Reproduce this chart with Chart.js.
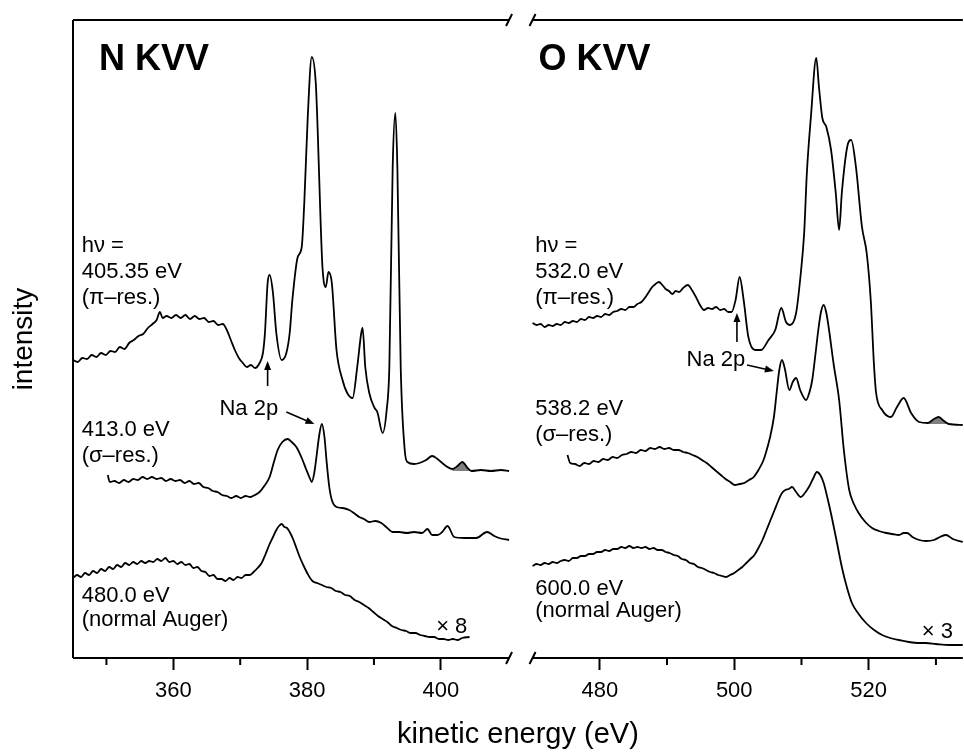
<!DOCTYPE html>
<html>
<head>
<meta charset="utf-8">
<script src="https://cdn.jsdelivr.net/npm/chart.js@4.4.0/dist/chart.umd.min.js"></script>
<style>
  html, body { margin: 0; padding: 0; background: #fff; }
  canvas { display: block; }
</style>
</head>
<body>
<canvas id="auger" width="964" height="752"></canvas>
<script>
// [kinetic energy (eV), intensity (arb. units, traces offset)]
// N KVV panel
const nPiRes = [
  [345.0, 298], [345.7, 296], [346.4, 300], [347.1, 299], [347.8, 303], [348.5, 301],
  [349.2, 305], [349.9, 303], [350.6, 307], [351.3, 306], [352.0, 311], [352.7, 309],
  [353.4, 315], [354.1, 318], [354.8, 322], [355.5, 324], [356.2, 330], [356.9, 334],
  [357.5, 338], [358.0, 346], [358.4, 340], [359.0, 342], [359.7, 340], [360.4, 343],
  [361.1, 340], [361.8, 343], [362.5, 339], [363.2, 342], [363.9, 339], [364.6, 340],
  [365.3, 336], [366.0, 337], [366.7, 333], [367.4, 334], [368.0, 328], [368.6, 318],
  [369.2, 308], [369.8, 300], [370.4, 295], [371.0, 291], [371.6, 293], [372.2, 290],
  [372.9, 295], [373.4, 305], [373.7, 325], [374.1, 375], [374.4, 383], [374.9, 365],
  [375.4, 325], [376.2, 298], [376.9, 305], [377.4, 325], [377.8, 358], [378.6, 401],
  [379.2, 411], [379.6, 458], [380.1, 541], [380.7, 601], [381.3, 575], [381.6, 525],
  [382.0, 441], [382.3, 391], [382.8, 371], [383.2, 386], [383.7, 375], [384.4, 308],
  [385.3, 278], [386.0, 265], [386.8, 260], [387.5, 291], [388.1, 325], [388.3, 330],
  [388.7, 291], [389.3, 265], [390.1, 250], [390.5, 246], [391.3, 225], [391.9, 248],
  [392.3, 291], [392.8, 491], [393.2, 545], [393.5, 491], [394.0, 291], [394.6, 208],
  [395.0, 196], [396.0, 194], [396.8, 195], [397.8, 198], [398.7, 202], [399.5, 199],
  [400.2, 195], [401.0, 191], [401.7, 189], [402.5, 192], [403.2, 196], [404.0, 190],
  [404.6, 187], [406.0, 188], [407.5, 187], [409.0, 188], [410.2, 187]
];
const nSigmaRes = [
  [350.2, 183], [350.5, 176], [351.2, 177], [351.9, 175], [352.6, 178], [353.3, 176],
  [354.0, 179], [354.7, 178], [355.4, 181], [356.1, 179], [356.8, 181], [357.5, 179],
  [358.2, 180], [358.9, 177], [359.6, 179], [360.3, 177], [361.0, 178], [361.7, 175],
  [362.4, 177], [363.1, 174], [363.8, 175], [364.5, 171], [365.2, 170], [365.9, 167],
  [366.6, 166], [367.3, 163], [368.0, 162], [368.7, 160], [369.4, 162], [370.1, 160],
  [370.8, 162], [371.5, 161], [372.2, 163], [372.9, 166], [373.6, 172], [374.4, 181],
  [375.0, 195], [375.6, 208], [376.3, 216], [377.1, 219], [377.7, 216], [378.4, 211],
  [379.2, 200], [379.9, 188], [380.4, 180], [380.7, 176], [381.1, 186], [381.4, 201],
  [381.8, 222], [382.2, 234], [382.6, 221], [382.9, 198], [383.3, 172], [383.7, 158],
  [384.4, 151], [385.3, 150], [386.3, 148], [387.0, 145], [387.8, 141], [388.5, 139],
  [389.3, 136], [390.2, 137], [391.1, 135], [392.0, 130], [392.8, 126], [393.8, 126],
  [394.9, 125], [396.0, 126], [397.2, 125], [398.0, 129], [398.7, 123], [399.5, 123],
  [400.2, 126], [401.0, 132], [402.0, 121], [403.5, 120], [405.3, 120], [406.9, 126],
  [408.0, 122], [408.7, 120], [410.2, 118]
];
const nNormal = [
  [345.0, 80], [345.6, 83], [346.2, 81], [346.8, 85], [347.4, 83], [348.0, 87],
  [348.6, 85], [349.2, 89], [349.8, 87], [350.4, 91], [351.0, 89], [351.6, 93],
  [352.2, 91], [352.8, 95], [353.4, 93], [354.0, 96], [354.6, 94], [355.2, 97],
  [355.8, 95], [356.4, 97], [357.0, 96], [357.6, 99], [358.2, 97], [358.8, 100],
  [359.4, 96], [360.0, 97], [360.6, 94], [361.2, 96], [361.8, 93], [362.4, 94],
  [363.0, 90], [363.6, 91], [364.2, 87], [364.8, 86], [365.4, 82], [366.0, 83],
  [366.6, 79], [367.2, 79], [367.8, 77], [368.4, 80], [369.0, 78], [369.6, 81],
  [370.2, 80], [370.8, 83], [371.4, 83], [372.0, 86], [372.6, 90], [373.2, 95],
  [373.8, 104], [374.4, 114], [374.9, 121], [375.4, 128], [375.8, 132], [376.2, 134],
  [376.6, 131], [377.0, 130], [377.4, 126], [377.9, 119], [378.4, 110], [378.9, 101],
  [379.5, 92], [380.1, 84], [380.8, 77], [381.5, 75], [382.2, 73], [382.9, 71],
  [383.6, 70], [384.3, 67], [385.0, 66], [385.7, 63], [386.4, 62], [387.1, 58],
  [387.8, 56], [388.5, 53], [389.2, 50], [389.9, 46], [390.6, 42], [391.3, 39],
  [392.0, 36], [392.7, 32], [393.4, 30], [394.1, 28], [394.8, 27], [395.5, 25],
  [396.2, 25], [396.9, 23], [397.6, 22], [398.3, 21], [399.0, 21], [399.7, 19],
  [400.4, 19], [401.1, 18], [401.8, 19], [402.5, 18], [403.2, 20], [404.3, 21]
];

// O KVV panel
const oPiRes = [
  [470.0, 335], [470.6, 333], [471.2, 334], [471.8, 331], [472.4, 333], [473.0, 332],
  [473.6, 334], [474.2, 333], [474.8, 336], [475.4, 335], [476.0, 337], [476.6, 336],
  [477.2, 339], [477.8, 338], [478.4, 341], [479.0, 340], [479.6, 342], [480.2, 341],
  [480.8, 344], [481.4, 343], [482.0, 346], [482.6, 347], [483.2, 349], [483.8, 348],
  [484.4, 351], [485.0, 351], [485.6, 354], [486.2, 356], [486.8, 361], [487.3, 366],
  [487.8, 371], [488.3, 374], [488.8, 376], [489.3, 373], [489.8, 369], [490.3, 367],
  [490.8, 364], [491.3, 367], [491.8, 366], [492.4, 370], [493.1, 373], [493.7, 368],
  [494.3, 361], [494.9, 353], [495.5, 348], [496.1, 350], [496.7, 349], [497.3, 351],
  [497.9, 348], [498.5, 349], [499.1, 346], [499.6, 346], [500.2, 358], [500.8, 381],
  [501.4, 358], [502.1, 321], [503.1, 308], [504.0, 308], [505.1, 318], [506.1, 328],
  [507.0, 350], [507.7, 336], [508.3, 333], [509.2, 345], [509.9, 385], [510.4, 425],
  [510.8, 485], [511.4, 541], [512.2, 600], [512.6, 571], [513.1, 540], [513.7, 531],
  [514.4, 508], [515.1, 465], [515.6, 428], [516.0, 465], [516.8, 511], [517.4, 518],
  [518.1, 491], [519.0, 431], [519.7, 405], [520.3, 358], [520.8, 291], [521.1, 265],
  [522.0, 248], [523.3, 241], [524.2, 251], [525.2, 260], [526.3, 245], [527.5, 236],
  [528.8, 235], [529.7, 239], [530.4, 241], [531.2, 237], [531.9, 234], [534.0, 233]
];
const oSigmaRes = [
  [475.2, 203], [475.6, 195], [476.3, 194], [477.0, 192], [477.7, 195], [478.4, 194],
  [479.1, 197], [479.8, 196], [480.5, 199], [481.2, 198], [481.9, 201], [482.6, 200],
  [483.3, 203], [484.0, 204], [484.7, 206], [485.4, 205], [486.1, 208], [486.8, 207],
  [487.5, 210], [488.2, 209], [488.9, 211], [489.6, 209], [490.3, 210], [491.0, 208],
  [491.7, 208], [492.4, 206], [493.1, 205], [493.8, 203], [494.5, 201], [495.2, 198],
  [495.9, 195], [496.6, 191], [497.3, 187], [498.0, 183], [498.7, 179], [499.4, 176],
  [500.1, 173], [500.8, 174], [501.5, 175], [502.2, 178], [502.9, 181], [503.6, 188],
  [504.3, 197], [504.7, 205], [505.3, 220], [505.9, 241], [506.3, 265], [506.7, 288],
  [507.1, 298], [507.5, 290], [508.2, 268], [508.7, 276], [509.2, 280], [509.8, 268],
  [510.7, 258], [511.2, 266], [511.6, 278], [512.1, 305], [512.5, 328], [512.9, 346],
  [513.3, 353], [513.7, 345], [514.1, 328], [514.8, 293], [515.6, 258], [516.3, 208],
  [517.1, 168], [517.8, 154], [518.5, 145], [519.5, 136], [520.5, 130], [521.5, 127],
  [522.6, 125], [523.5, 124], [524.5, 123], [525.2, 125], [525.7, 125], [526.5, 121],
  [527.5, 118], [528.5, 117], [529.7, 118], [530.6, 121], [531.5, 123], [532.5, 119],
  [534.0, 116]
];
const oNormal = [
  [470.0, 92], [470.6, 94], [471.2, 93], [471.8, 95], [472.4, 94], [473.0, 96],
  [473.6, 95], [474.2, 97], [474.8, 98], [475.4, 97], [476.0, 100], [476.6, 100],
  [477.2, 102], [477.8, 102], [478.4, 104], [479.0, 104], [479.6, 106], [480.2, 106],
  [480.8, 108], [481.4, 107], [482.0, 109], [482.6, 109], [483.2, 111], [483.8, 110],
  [484.4, 112], [485.0, 110], [485.6, 111], [486.2, 110], [486.8, 111], [487.4, 109],
  [488.0, 110], [488.6, 108], [489.2, 108], [489.8, 106], [490.4, 105], [491.0, 103],
  [491.6, 102], [492.2, 99], [492.8, 98], [493.4, 95], [494.0, 94], [494.6, 91],
  [495.2, 90], [495.8, 88], [496.4, 86], [497.0, 85], [497.6, 83], [498.2, 82],
  [498.8, 81], [499.4, 83], [500.0, 85], [500.6, 88], [501.2, 91], [501.8, 95],
  [502.4, 99], [503.0, 103], [503.6, 110], [504.2, 118], [504.8, 128], [505.4, 138],
  [506.0, 148], [506.6, 158], [507.1, 165], [507.6, 168], [508.1, 169], [508.6, 171],
  [509.2, 166], [509.9, 161], [510.5, 165], [511.1, 171], [511.7, 179], [512.3, 186],
  [512.8, 183], [513.3, 175], [513.9, 159], [514.5, 141], [515.2, 118], [516.0, 91],
  [516.7, 72], [517.5, 55], [518.5, 44], [519.6, 35], [520.8, 28], [522.0, 23],
  [523.2, 20], [524.5, 18], [526.0, 16], [527.5, 15], [528.5, 15], [530.0, 14],
  [532.0, 13], [534.0, 13]
];

// satellite peaks shaded grey
const nShadeRange = [401.7, 404.6];
const oShadeRange = [528.8, 531.9];

// axis ranges and the break
const nRange = [345, 411.9];
const oRange = [468.2, 534];
const breakAt = [410.2, 470.0];

// text annotations in data coordinates
const nLabels = [
  { text: 'N KVV', x: 348.9, y: 588, bold: true },
  { text: 'h\u03bd =', x: 346.3, y: 406 },
  { text: '405.35 eV', x: 346.3, y: 380 },
  { text: '(\u03c0\u2013res.)', x: 346.3, y: 354 },
  { text: '413.0 eV', x: 346.3, y: 222 },
  { text: '(\u03c3\u2013res.)', x: 346.3, y: 196 },
  { text: '480.0 eV', x: 346.3, y: 56 },
  { text: '(normal Auger)', x: 346.3, y: 32 },
  { text: '\u00d7 8', x: 399.3, y: 25 },
  { text: 'Na 2p', x: 366.9, y: 243 }
];
const oLabels = [
  { text: 'O KVV', x: 470.9, y: 588, bold: true },
  { text: 'h\u03bd =', x: 470.4, y: 406 },
  { text: '532.0 eV', x: 470.4, y: 380 },
  { text: '(\u03c0\u2013res.)', x: 470.4, y: 354 },
  { text: 'Na 2p', x: 492.9, y: 292 },
  { text: '538.2 eV', x: 470.4, y: 243 },
  { text: '(\u03c3\u2013res.)', x: 470.4, y: 217 },
  { text: '600.0 eV', x: 470.4, y: 63 },
  { text: '(normal Auger)', x: 470.4, y: 41 },
  { text: '\u00d7 3', x: 527.9, y: 20 }
];
const nArrows = [
  { from: [374.1, 272], to: [374.1, 297] },
  { from: [376.9, 246], to: [381.1, 234] }
];
const oArrows = [
  { from: [500.4, 316], to: [500.4, 345] },
  { from: [501.9, 293], to: [505.9, 287] }
];

const FONT = "'Liberation Sans', Arial, Helvetica, sans-serif";

const toXY = pairs => pairs.map(([x, y]) => ({ x, y }));
const inRange = (pairs, [lo, hi]) => toXY(pairs.filter(([x]) => x >= lo && x <= hi));

const trace = (data, axis) => ({
  data: toXY(data),
  xAxisID: axis,
  borderColor: '#000',
  borderWidth: 1.8,
  pointRadius: 0,
  fill: false,
  cubicInterpolationMode: 'monotone'
});
const shade = (data, range, axis) => ({
  data: inRange(data, range),
  xAxisID: axis,
  borderWidth: 0,
  pointRadius: 0,
  backgroundColor: '#808080',
  fill: { value: Math.min(...inRange(data, range).map(p => p.y)) },
  cubicInterpolationMode: 'monotone'
});

const xAxis = (range, weight) => ({
  type: 'linear',
  position: 'bottom',
  stack: 'energy',
  stackWeight: weight,
  min: range[0],
  max: range[1],
  border: { display: false },
  grid: {
    drawOnChartArea: false,
    drawTicks: true,
    tickLength: 12,
    tickWidth: 2,
    tickColor: c => (c.tick && c.tick.value % 20 === 0 ? '#000' : 'rgba(0,0,0,0)')
  },
  ticks: {
    stepSize: 10,
    includeBounds: false,
    autoSkip: false,
    maxRotation: 0,
    padding: 8,
    color: '#000',
    font: { family: FONT, size: 22 },
    callback: v => (v % 20 === 0 ? String(v) : '')
  },
  afterFit: s => { s.height = 94; }
});

const decor = {
  id: 'decor',
  afterDraw(chart) {
    const { ctx, chartArea: a, scales } = chart;
    const bl = scales.x.getPixelForValue(breakAt[0]);
    const br = scales.x2.getPixelForValue(breakAt[1]);
    ctx.save();
    ctx.strokeStyle = '#000';
    ctx.fillStyle = '#000';
    ctx.lineWidth = 2;

    // frame with the axis break
    ctx.beginPath();
    ctx.moveTo(a.left, a.top); ctx.lineTo(a.left, a.bottom);
    [a.top, a.bottom].forEach(y => {
      ctx.moveTo(a.left, y); ctx.lineTo(bl, y);
      ctx.moveTo(br, y); ctx.lineTo(a.right, y);
      ctx.moveTo(bl - 3, y + 6); ctx.lineTo(bl + 3, y - 6);
      ctx.moveTo(br - 3, y + 6); ctx.lineTo(br + 3, y - 6);
    });
    ctx.stroke();

    // minor ticks
    ctx.beginPath();
    ['x', 'x2'].forEach(id => {
      const s = scales[id];
      s.ticks.forEach(t => {
        if (t.value % 20 === 0) return;
        const px = s.getPixelForValue(t.value);
        if (px > bl - 6 && px < br + 6) return;
        ctx.moveTo(px, a.bottom); ctx.lineTo(px, a.bottom + 7);
      });
    });
    ctx.stroke();

    // labels
    const y = scales.y;
    const put = (labels, sx) => labels.forEach(l => {
      ctx.font = (l.bold ? 'bold 36px ' : '22px ') + FONT;
      ctx.textAlign = 'left';
      ctx.textBaseline = 'alphabetic';
      ctx.fillText(l.text, sx.getPixelForValue(l.x), y.getPixelForValue(l.y));
    });
    put(nLabels, scales.x);
    put(oLabels, scales.x2);

    // arrows
    const arrow = (list, sx) => list.forEach(ar => {
      const x1 = sx.getPixelForValue(ar.from[0]), y1 = y.getPixelForValue(ar.from[1]);
      const x2 = sx.getPixelForValue(ar.to[0]), y2 = y.getPixelForValue(ar.to[1]);
      const ang = Math.atan2(y2 - y1, x2 - x1);
      const len = 9, hw = 3.5;
      ctx.lineWidth = 1.6;
      ctx.beginPath();
      ctx.moveTo(x1, y1);
      ctx.lineTo(x2 - len * 0.8 * Math.cos(ang), y2 - len * 0.8 * Math.sin(ang));
      ctx.stroke();
      ctx.beginPath();
      ctx.moveTo(x2, y2);
      ctx.lineTo(x2 - len * Math.cos(ang) + hw * Math.sin(ang), y2 - len * Math.sin(ang) - hw * Math.cos(ang));
      ctx.lineTo(x2 - len * Math.cos(ang) - hw * Math.sin(ang), y2 - len * Math.sin(ang) + hw * Math.cos(ang));
      ctx.closePath();
      ctx.fill();
    });
    arrow(nArrows, scales.x);
    arrow(oArrows, scales.x2);

    // shared x-axis title
    ctx.font = '29px ' + FONT;
    ctx.textAlign = 'center';
    ctx.textBaseline = 'middle';
    ctx.fillText('kinetic energy (eV)', (a.left + a.right) / 2, a.bottom + 77);
    ctx.restore();
  }
};

new Chart(document.getElementById('auger'), {
  type: 'line',
  data: {
    datasets: [
      trace(nPiRes, 'x'),
      trace(nSigmaRes, 'x'),
      trace(nNormal, 'x'),
      trace(oPiRes, 'x2'),
      trace(oSigmaRes, 'x2'),
      trace(oNormal, 'x2'),
      shade(nPiRes, nShadeRange, 'x'),
      shade(oPiRes, oShadeRange, 'x2')
    ]
  },
  options: {
    responsive: false,
    animation: false,
    devicePixelRatio: 1,
    layout: { padding: { top: 20, left: 0, right: 0, bottom: 0 } },
    plugins: {
      legend: { display: false },
      tooltip: { enabled: false }
    },
    scales: {
      x: xAxis(nRange, 448),
      x2: xAxis(oRange, 443),
      y: {
        type: 'linear',
        position: 'left',
        min: 0,
        max: 638,
        border: { display: false },
        grid: { display: false },
        ticks: { display: false },
        title: {
          display: true,
          text: 'intensity',
          color: '#000',
          font: { family: FONT, size: 28 },
          padding: { top: 7, bottom: 0 }
        },
        afterFit: s => { s.width = 73; }
      }
    }
  },
  plugins: [decor]
});
</script>
</body>
</html>
